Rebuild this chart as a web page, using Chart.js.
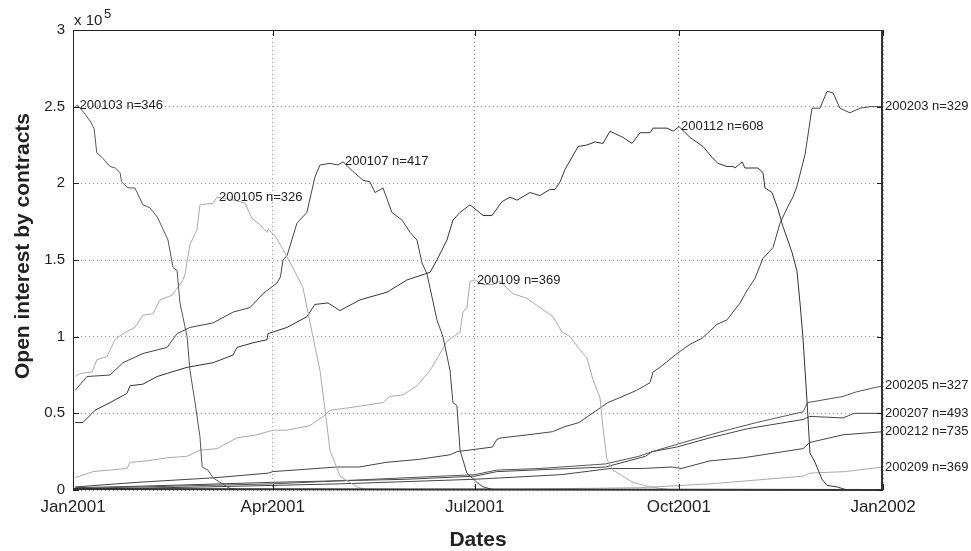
<!DOCTYPE html>
<html>
<head>
<meta charset="utf-8">
<script src="https://cdn.jsdelivr.net/npm/chart.js@4"></script>
<style>
  html, body { margin: 0; padding: 0; background: #fff; }
</style>
</head>
<body>
<canvas id="oiChart" width="971" height="551"></canvas>
<script>
// x = days since 1 Jan 2001, y = open interest in units of 1e5 contracts
const s200103 = [[1,2.5],[2,2.51],[5,2.46],[8,2.40],[9,2.37],[9.5,2.36],[10.7,2.2],[13,2.17],[16.7,2.11],[19,2.1],[21.2,2.07],[21.9,2.01],[24.8,1.97],[27.9,1.97],[31.5,1.86],[34.7,1.84],[38,1.78],[40.6,1.7],[42.8,1.63],[45.1,1.45],[46.9,1.43],[48.2,1.22],[51.4,1.0],[52.7,0.78],[55,0.57],[57.2,0.35],[58.2,0.15],[60.8,0.13],[63.1,0.08],[66.2,0.05],[70.7,0.01],[75.3,0]];
const s200105 = [[1,0.74],[3.2,0.76],[8.6,0.77],[10.8,0.85],[15.3,0.87],[18.9,0.98],[22.5,1.02],[27.9,1.06],[31.5,1.14],[36,1.15],[39.2,1.24],[44.6,1.27],[49.6,1.37],[50.5,1.41],[52.7,1.6],[55.9,1.7],[57.2,1.86],[63.1,1.87],[64.9,1.91],[69.4,1.9],[75.3,1.88],[77.5,1.87],[80.7,1.77],[84.3,1.73],[87.4,1.68],[87.9,1.7],[91,1.66],[94.2,1.58],[96.4,1.52],[99.1,1.45],[103.6,1.32],[108.1,1.0],[111.3,0.78],[113.6,0.52],[115.8,0.26],[120.3,0.09],[128,0.02],[132.5,0]];
const s200107 = [[1,0.65],[6.3,0.74],[16.7,0.75],[22.5,0.83],[31.5,0.89],[42.4,0.93],[46.9,1.02],[52.7,1.06],[63.1,1.09],[72.1,1.16],[79.8,1.19],[85.6,1.28],[91.9,1.35],[93.5,1.39],[94.6,1.5],[96.5,1.53],[100.9,1.74],[105.4,1.81],[109,2.04],[111.3,2.12],[115.8,2.13],[119.4,2.12],[121.7,2.14],[126,2.08],[130.7,2.02],[133.8,2.01],[136.1,1.94],[139.7,1.97],[143.7,1.81],[148.3,1.76],[151.9,1.68],[155,1.63],[157.3,1.48],[159.5,1.41],[164,1.11],[166.7,1.0],[169.9,0.78],[171.2,0.57],[173,0.55],[174.4,0.26],[177.5,0.11],[182,0.05],[184.8,0.02],[190,0]];
const s200109 = [[1,0.08],[9,0.12],[16.7,0.13],[24.3,0.14],[25.7,0.18],[33.3,0.19],[42.4,0.21],[51.4,0.22],[57.2,0.26],[64.9,0.27],[73.9,0.34],[82.9,0.36],[90.1,0.39],[96.4,0.39],[106.8,0.42],[112.7,0.48],[115.8,0.52],[126.2,0.54],[139.7,0.57],[142.8,0.61],[148.7,0.62],[155,0.68],[160.9,0.78],[165.4,0.89],[168.5,0.97],[174.4,1.03],[175.7,1.16],[177.5,1.19],[178.9,1.36],[181.1,1.37],[184.8,1.34],[189.3,1.34],[192.4,1.36],[198.3,1.28],[204.6,1.25],[210.4,1.19],[216.3,1.13],[220.4,1.03],[224,1.0],[227.6,0.93],[231.6,0.86],[234.3,0.72],[237.5,0.6],[238.8,0.41],[240.6,0.2],[243.3,0.13],[247.8,0.09],[252.3,0.05],[260,0.02],[270,0]];
const s200112 = [[1,0.44],[4.5,0.44],[9.9,0.52],[16.7,0.57],[24.3,0.63],[25.7,0.68],[31.5,0.69],[37.9,0.74],[42.4,0.76],[51.4,0.8],[63.1,0.83],[72.1,0.88],[73.9,0.93],[81.1,0.96],[87.4,0.98],[87.9,1.02],[96.4,1.06],[105.4,1.13],[109,1.21],[114.9,1.22],[120.3,1.17],[129.3,1.24],[141.5,1.29],[150.5,1.37],[160.9,1.42],[164,1.5],[168.5,1.63],[171.2,1.76],[174.4,1.81],[178.9,1.86],[184.8,1.79],[188.8,1.79],[193.3,1.88],[196.9,1.91],[200.1,1.89],[205.9,1.94],[210.4,1.92],[214.9,1.96],[217.2,1.96],[219.5,2.01],[221.7,2.09],[227.6,2.24],[231.6,2.25],[235.2,2.27],[238.8,2.26],[242,2.34],[247.8,2.3],[251.9,2.26],[255.5,2.33],[260,2.33],[261.4,2.36],[264.5,2.36],[267.7,2.36],[270.4,2.34],[273.1,2.37],[278,2.3],[283.9,2.24],[287.9,2.17],[290.6,2.13],[294.7,2.11],[297.4,2.11],[298.3,2.1],[301.5,2.14],[302.8,2.1],[305.1,2.1],[308.7,2.1],[310.9,2.07],[311.8,1.97],[315,1.94],[317.7,1.83],[319.9,1.72],[324,1.55],[326.2,1.43],[327.6,1.22],[328.9,1.0],[330.8,0.57],[332.1,0.24],[334.4,0.18],[337.5,0.07],[339.8,0.03],[344.3,0.02],[348.8,0]];
const s200203 = [[1,0.02],[29,0.05],[64,0.08],[88,0.11],[90,0.12],[119,0.15],[129,0.15],[141,0.18],[156,0.2],[170,0.23],[173,0.25],[189,0.28],[191,0.33],[193,0.34],[205,0.36],[216,0.38],[221,0.41],[228,0.44],[234,0.5],[241,0.57],[246,0.6],[254,0.65],[260,0.7],[261.4,0.77],[264.5,0.8],[272.2,0.89],[278,0.95],[283.5,0.99],[290.2,1.08],[294.7,1.11],[300.6,1.22],[303.7,1.3],[307.3,1.38],[310.9,1.51],[315.4,1.58],[318.6,1.74],[322.2,1.85],[324.4,1.91],[326.2,1.98],[329.9,2.19],[333,2.49],[336.6,2.49],[339.8,2.6],[342.5,2.59],[345.6,2.49],[350.1,2.46],[354.6,2.49],[359.1,2.5],[365,2.5]];
const s200205 = [[1,0.01],[31,0.02],[90,0.04],[120,0.06],[181,0.1],[191,0.13],[210,0.14],[240,0.17],[255,0.22],[261,0.25],[275,0.31],[292,0.38],[308,0.44],[329,0.51],[331,0.57],[347,0.61],[353,0.64],[365,0.68]];
const s200207 = [[1,0.015],[31,0.025],[90,0.05],[150,0.07],[181,0.09],[191,0.12],[240,0.15],[258,0.22],[261,0.25],[272,0.28],[287,0.34],[304,0.4],[329,0.46],[332,0.48],[347,0.47],[352,0.5],[365,0.5]];
const s200212 = [[1,0.005],[60,0.02],[120,0.04],[181,0.07],[220,0.1],[242,0.14],[256,0.14],[270,0.15],[274,0.14],[287,0.19],[302,0.21],[329,0.27],[332,0.31],[347,0.36],[365,0.38]];
const s200209 = [[1,0],[120,0.002],[200,0.005],[255,0.015],[287,0.04],[329,0.09],[332,0.11],[348,0.12],[365,0.15]];

const contracts = ["200103", "200105", "200107", "200109", "200112", "200203", "200205", "200207", "200212", "200209"];
const counts = [346, 326, 417, 369, 608, 329, 327, 493, 735, 369];
const seriesData = [s200103, s200105, s200107, s200109, s200112, s200203, s200205, s200207, s200212, s200209];
const labelAt = ["max", "max", "max", "max", "max", "end", "end", "end", "end", "end"];
const lineColors = ["#555", "#aaa", "#444", "#aaa", "#333", "#444", "#555", "#444", "#444", "#aaa"];

const tickDays = [0, 90, 181, 273, 365];
const tickLabels = ["Jan2001", "Apr2001", "Jul2001", "Oct2001", "Jan2002"];

const FONT = "'Liberation Sans', Arial, sans-serif";

// cadre façon MATLAB, ticks intérieurs, étiquettes des contrats
const matlabFrame = {
  id: "matlabFrame",
  afterDatasetsDraw(chart) {
    const { ctx, chartArea: a, scales: { x, y } } = chart;
    ctx.save();
    ctx.strokeStyle = "#222";
    ctx.lineWidth = 1;
    ctx.strokeRect(a.left + 0.5, a.top + 0.5, a.right - a.left - 1, a.bottom - a.top - 1);
    // bord droit et bas plus épais
    ctx.lineWidth = 2;
    ctx.strokeStyle = "#333";
    ctx.beginPath();
    ctx.moveTo(a.right - 1, a.top);
    ctx.lineTo(a.right - 1, a.bottom);
    ctx.lineTo(a.left, a.bottom - 1);
    ctx.stroke();

    const len = 6;
    ctx.lineWidth = 1;
    ctx.strokeStyle = "#222";
    ctx.beginPath();
    tickDays.forEach((d) => {
      const px = Math.round(x.getPixelForValue(d)) + 0.5;
      ctx.moveTo(px, a.bottom); ctx.lineTo(px, a.bottom - len);
      ctx.moveTo(px, a.top); ctx.lineTo(px, a.top + len);
    });
    y.ticks.forEach((t) => {
      const py = Math.round(y.getPixelForValue(t.value)) + 0.5;
      ctx.moveTo(a.left, py); ctx.lineTo(a.left + len, py);
      ctx.moveTo(a.right, py); ctx.lineTo(a.right - len, py);
    });
    ctx.stroke();

    ctx.fillStyle = "#222";
    ctx.font = "13px " + FONT;
    ctx.textAlign = "left";
    ctx.textBaseline = "middle";
    chart.data.datasets.forEach((ds, i) => {
      const pts = ds.data;
      let p = pts[pts.length - 1];
      if (labelAt[i] === "max") p = pts.reduce((m, q) => (q.y > m.y ? q : m));
      ctx.fillText(contracts[i] + " n=" + counts[i], x.getPixelForValue(p.x) + 2, y.getPixelForValue(p.y));
    });

    // multiplicateur de l'axe y
    ctx.textBaseline = "alphabetic";
    ctx.font = "15px " + FONT;
    ctx.fillText("x 10", a.left + 1, a.top - 5);
    ctx.font = "13px " + FONT;
    ctx.fillText("5", a.left + 31, a.top - 12);

    // titre de l'axe y
    ctx.font = "bold 21px " + FONT;
    ctx.textAlign = "center";
    ctx.textBaseline = "middle";
    ctx.translate(23, (a.top + a.bottom) / 2 - 14);
    ctx.rotate(-Math.PI / 2);
    ctx.fillText("Open interest by contracts", 0, 0);
    ctx.restore();
  },
};

const datasets = seriesData.map((s, i) => ({
  label: contracts[i],
  data: s.map(([d, v]) => ({ x: d, y: v })),
  borderColor: lineColors[i],
  borderWidth: 1,
  pointRadius: 0,
  tension: 0,
  fill: false,
}));

new Chart(document.getElementById("oiChart").getContext("2d"), {
  type: "line",
  data: { datasets },
  options: {
    responsive: false,
    animation: false,
    layout: { padding: { left: 0, right: 88, top: 30, bottom: 0 } },
    plugins: { legend: { display: false }, tooltip: { enabled: false } },
    scales: {
      x: {
        type: "linear",
        min: 0,
        max: 365,
        afterBuildTicks: (scale) => {
          scale.ticks = tickDays.map((d) => ({ value: d }));
        },
        afterFit: (scale) => { scale.height = 61; },
        ticks: {
          callback: (v) => tickLabels[tickDays.indexOf(v)],
          color: "#222",
          font: { family: FONT, size: 17 },
          padding: 7,
          maxRotation: 0,
          autoSkip: false,
        },
        grid: { color: "#999", drawTicks: false },
        border: { display: false, dash: [1, 3] },
        title: {
          display: true,
          text: "Dates",
          color: "#222",
          font: { family: FONT, size: 21, weight: "bold", lineHeight: 1 },
          padding: 0,
        },
      },
      y: {
        min: 0,
        max: 3,
        afterFit: (scale) => { scale.width = 73; },
        ticks: {
          stepSize: 0.5,
          callback: (v) => String(v),
          color: "#222",
          font: { family: FONT, size: 15 },
          padding: 8,
        },
        grid: { color: "#999", drawTicks: false },
        border: { display: false, dash: [1, 3] },
      },
    },
  },
  plugins: [matlabFrame],
});
</script>
</body>
</html>
